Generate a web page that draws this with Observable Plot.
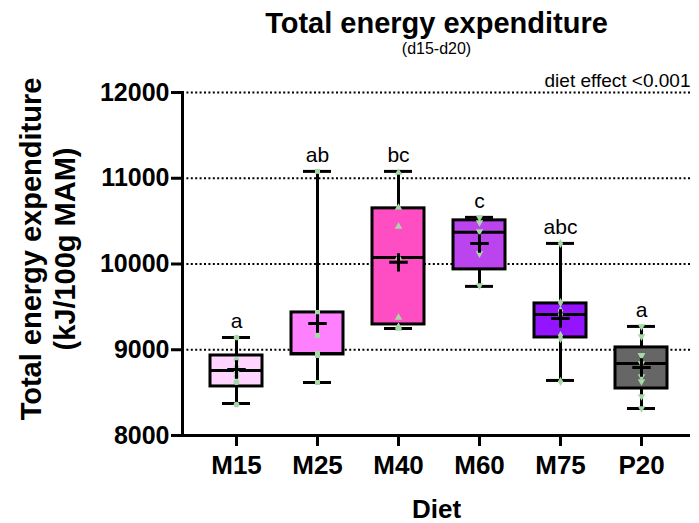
<!DOCTYPE html>
<html>
<head>
<meta charset="utf-8">
<script src="https://cdn.jsdelivr.net/npm/d3@7"></script>
<script src="https://cdn.jsdelivr.net/npm/@observablehq/plot@0.6"></script>
<style>
  html, body { margin: 0; padding: 0; background: #fff; }
  #chart { width: 699px; height: 523px; }
</style>
</head>
<body>
<div id="chart"></div>
<script>
// ---- data ----
const categories = ["M15", "M25", "M40", "M60", "M75", "P20"];
const whiskerMin = [8373, 8618, 9248, 9739, 8642, 8315];
const q1 = [8572, 8945, 9295, 9937, 9143, 8548];
const median = [8758, 8957, 10077, 10369, 9412, 8840];
const q3 = [8933, 9435, 10649, 10509, 9540, 9027];
const whiskerMax = [9143, 11080, 11080, 10544, 10240, 9272];
const means = [8770, 9307, 10019, 10240, 9365, 8793];
const letters = ["a", "ab", "bc", "c", "abc", "a"];
const fills = ["#ffd4ff", "#ff80ff", "#ff4dc4", "#bb44ee", "#9414ff", "#666666"];
const symbols = ["circle", "square", "triangle", "triangle", "diamond", "triangle"];
const symbolRotate = [0, 0, 0, 180, 0, 180];

const pointsM15 = [9143, 8883, 8796, 8743, 8688, 8622, 8361];
const pointsM25 = [11080, 9435, 9166, 8957, 8957, 8933, 8618];
const pointsM40 = [11067, 10659, 10437, 10076, 9376, 9271, 9248];
const pointsM60 = [10542, 10484, 10379, 10122, 9749];
const pointsM75 = [10239, 9551, 9458, 9411, 9166, 9131, 8630];
const pointsP20 = [9271, 9154, 8933, 8933, 8840, 8688, 8630, 8455, 8315];

const yTicks = [8000, 9000, 10000, 11000, 12000];
const gridValues = [9000, 10000, 11000, 12000];

const titleText = "Total energy expenditure";
const subtitleText = "(d15-d20)";
const noteText = "diet effect <0.001";
const yTitle1 = "Total energy expenditure";
const yTitle2 = "(kJ/100g MAM)";
const xTitle = "Diet";

// ---- build tables ----
const boxes = categories.map((c, i) => ({
  cat: c, lo: whiskerMin[i], q1: q1[i], med: median[i], q3: q3[i],
  hi: whiskerMax[i], mean: means[i], letter: letters[i], fill: fills[i]
}));
const pointLists = [pointsM15, pointsM25, pointsM40, pointsM60, pointsM75, pointsP20];
const points = pointLists.flatMap((arr, i) => arr.map(v => ({
  cat: categories[i], v, symbol: symbols[i], rot: symbolRotate[i]
})));

const font = "'Liberation Sans', Arial, sans-serif";
const green = "#a6d9a6";

const chart = Plot.plot({
  width: 699,
  height: 523,
  marginLeft: 182,
  marginRight: 9,
  marginTop: 92,
  marginBottom: 88,
  style: { fontFamily: font, background: "#fff", color: "#000", overflow: "visible" },
  x: { type: "band", domain: categories, range: [195.5, 681.5], paddingInner: 0.36, paddingOuter: 0.18, label: null },
  y: { domain: [8000, 12000], label: null },
  marks: [
    Plot.gridY(gridValues, { stroke: "#000", strokeOpacity: 1, strokeWidth: 2, strokeDasharray: "2,2.4" }),
    Plot.axisY(yTicks, {
      tickSize: 11, tickPadding: 2, tickFormat: "d", fontSize: 25, fontWeight: "bold",
      strokeWidth: 3, label: null
    }),
    Plot.axisX({ tickSize: 11, tickPadding: 9, fontSize: 26, fontWeight: "bold", strokeWidth: 3, label: null }),
    Plot.ruleY([8000], { strokeWidth: 3 }),
    Plot.frame({ anchor: "left", strokeWidth: 3 }),
    // whiskers
    Plot.ruleX(boxes, { x: "cat", y1: "lo", y2: "hi", strokeWidth: 3 }),
    Plot.tickY(boxes, { x: "cat", y: "lo", strokeWidth: 3, insetLeft: 12, insetRight: 12 }),
    Plot.tickY(boxes, { x: "cat", y: "hi", strokeWidth: 3, insetLeft: 12, insetRight: 12 }),
    // boxes
    Plot.barY(boxes, { x: "cat", y1: "q1", y2: "q3", fill: "fill", stroke: "#000", strokeWidth: 3, inset: 0 }),
    Plot.tickY(boxes, { x: "cat", y: "med", strokeWidth: 3 }),
    // individual points
    Plot.dot(points, { x: "cat", y: "v", symbol: "symbol", rotate: "rot", r: 2.8, fill: green, stroke: "none" }),
    // means
    Plot.dot(boxes, { x: "cat", y: "mean", symbol: "plus", r: 6, stroke: "#000", strokeWidth: 3 }),
    // letters
    Plot.text(boxes, { x: "cat", y: "hi", text: "letter", dy: -16, fontSize: 21, fill: "#000", lineAnchor: "middle" }),
    // titles
    Plot.text([titleText], { frameAnchor: "top", textAnchor: "middle", lineAnchor: "middle", dy: -69, fontSize: 29, fontWeight: "bold" }),
    Plot.text([subtitleText], { frameAnchor: "top", textAnchor: "middle", lineAnchor: "middle", dy: -44, fontSize: 16 }),
    Plot.text([noteText], { frameAnchor: "top-right", textAnchor: "end", lineAnchor: "middle", dy: -12, fontSize: 19 }),
    Plot.text([xTitle], { frameAnchor: "bottom", textAnchor: "middle", lineAnchor: "middle", dy: 74, fontSize: 26, fontWeight: "bold" }),
    Plot.text([yTitle1], { frameAnchor: "left", textAnchor: "middle", lineAnchor: "middle", dx: -151, dy: -15, rotate: -90, fontSize: 29, fontWeight: "bold" }),
    Plot.text([yTitle2], { frameAnchor: "left", textAnchor: "middle", lineAnchor: "middle", dx: -117, dy: -15, rotate: -90, fontSize: 29, fontWeight: "bold" })
  ]
});
document.getElementById("chart").appendChild(chart);
</script>
</body>
</html>
